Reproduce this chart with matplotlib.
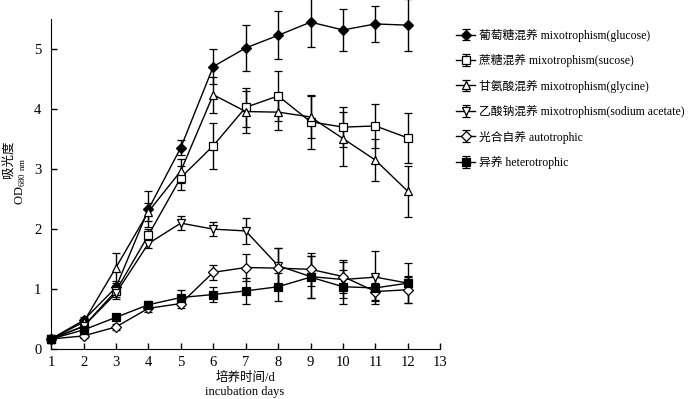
import matplotlib
matplotlib.use("Agg")
import matplotlib.pyplot as plt

SERIF_CJK = ["Liberation Serif", "Noto Sans CJK SC"]
plt.rcParams["font.family"] = SERIF_CJK
plt.rcParams["mathtext.fontset"] = "custom"
plt.rcParams["mathtext.rm"] = "Liberation Serif"

days = list(range(1, 13))

glucose = [0.17, 0.48, 1.03, 2.33, 3.36, 4.71, 5.02, 5.23, 5.45, 5.32, 5.42, 5.40]
glucose_err = [0.03, 0.05, 0.10, 0.30, 0.12, 0.29, 0.38, 0.40, 0.42, 0.35, 0.30, 0.43]

sucrose = [0.17, 0.38, 0.97, 1.90, 2.86, 3.39, 4.03, 4.22, 3.79, 3.70, 3.72, 3.52]
sucrose_err = [0.03, 0.05, 0.10, 0.10, 0.20, 0.38, 0.33, 0.42, 0.45, 0.33, 0.36, 0.41]

glycine = [0.17, 0.45, 1.36, 2.29, 2.97, 4.24, 3.96, 3.95, 3.87, 3.51, 3.15, 2.63]
glycine_err = [0.03, 0.05, 0.25, 0.15, 0.20, 0.30, 0.35, 0.30, 0.35, 0.45, 0.35, 0.43]

acetate = [0.17, 0.38, 0.93, 1.76, 2.10, 2.00, 1.97, 1.39, 1.21, 1.16, 1.20, 1.10]
acetate_err = [0.03, 0.05, 0.10, 0.07, 0.12, 0.12, 0.22, 0.30, 0.35, 0.30, 0.44, 0.33]

auto = [0.17, 0.22, 0.37, 0.68, 0.76, 1.28, 1.36, 1.35, 1.33, 1.21, 0.96, 0.99]
auto_err = [0.03, 0.03, 0.05, 0.06, 0.08, 0.12, 0.22, 0.33, 0.28, 0.28, 0.15, 0.22]

hetero = [0.17, 0.32, 0.53, 0.74, 0.86, 0.91, 0.97, 1.04, 1.20, 1.04, 1.02, 1.10]
hetero_err = [0.03, 0.04, 0.05, 0.06, 0.12, 0.12, 0.22, 0.23, 0.35, 0.28, 0.20, 0.12]

series = [
    (glucose, glucose_err, "D", "black", "葡萄糖混养 mixotrophism(glucose)"),
    (sucrose, sucrose_err, "s", "white", "蔗糖混养 mixotrophism(sucose)"),
    (glycine, glycine_err, "^", "white", "甘氨酸混养 mixotrophism(glycine)"),
    (acetate, acetate_err, "v", "white", "乙酸钠混养 mixotrophism(sodium acetate)"),
    (auto, auto_err, "D", "white", "光合自养 autotrophic"),
    (hetero, hetero_err, "s", "black", "异养 heterotrophic"),
]

fig = plt.figure(figsize=(7.0, 3.99), dpi=100)
ax = fig.add_axes([0.073, 0.125, 0.556, 0.827])

handles = []
for vals, err, mk, fc, label in series:
    ms = 5.5 if mk == "D" else 5.3
    h = ax.errorbar(days, vals, yerr=err, color="black", lw=1.0, elinewidth=1.0,
                    capsize=3, capthick=1.0, marker=mk, markersize=ms,
                    markerfacecolor=fc, markeredgecolor="black", markeredgewidth=0.9,
                    label=label, clip_on=False)
    for art in h.lines[1] + h.lines[2]:
        art.set_clip_on(False)
    handles.append(h)

ax.set_xlim(1, 13)
ax.set_ylim(0, 5.5)
ax.set_xticks(range(1, 14))
ax.set_yticks(range(0, 6))
ax.spines[["top", "right"]].set_visible(False)
ax.tick_params(direction="in", length=4, labelsize=10.5, width=1)
ax.tick_params(axis="x", pad=5)
ax.tick_params(axis="y", pad=7)

fig.text(0.35, 0.052, "培养时间/d", ha="center", va="center", fontsize=9)
fig.text(0.35, 0.018, "incubation days", ha="center", va="center", fontsize=9)
fig.text(0.012, 0.6, "吸光度", rotation=90, ha="center", va="center", fontsize=9)
fig.text(0.03, 0.545, r"OD$_{\mathregular{680\ nm}}$", rotation=90, ha="center",
         va="center", fontsize=9)

fig.legend(handles=handles, loc="upper left", bbox_to_anchor=(0.645, 0.94),
           frameon=False, fontsize=8.5, handlelength=1.6, handletextpad=0.3,
           labelspacing=1.05, borderaxespad=0)

fig.savefig("out.png", dpi=100)
